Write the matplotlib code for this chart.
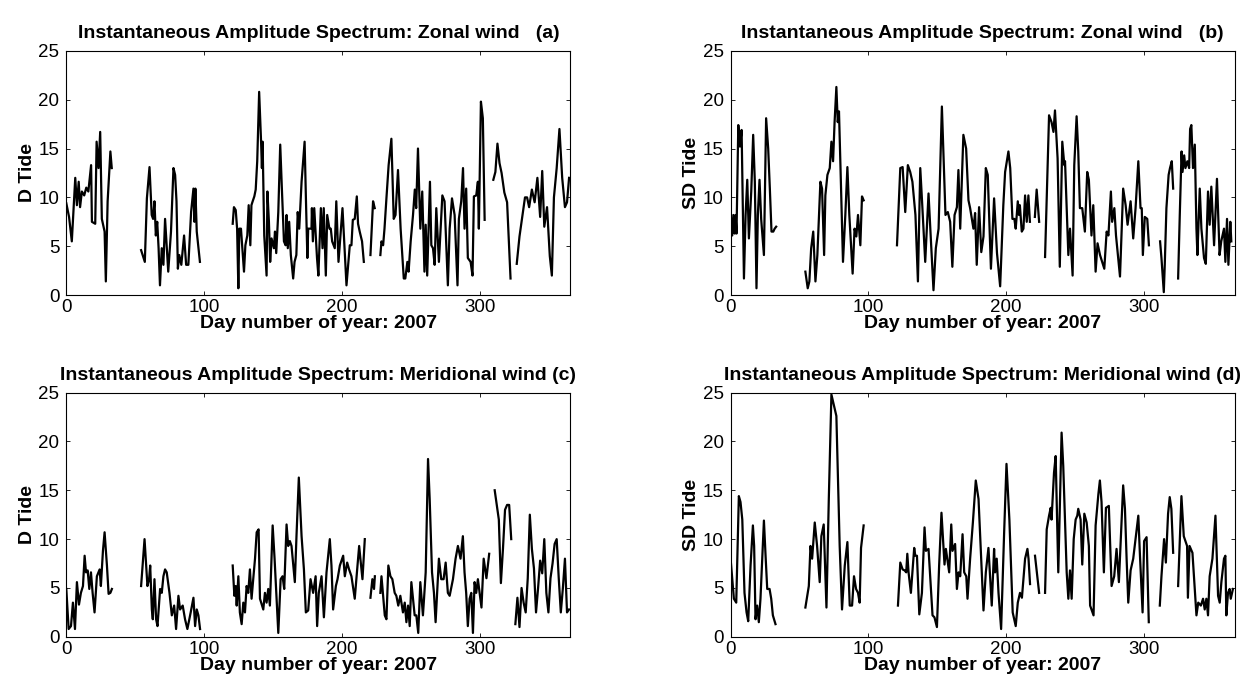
import numpy as np
import matplotlib
matplotlib.use("Agg")
import matplotlib.pyplot as plt

plt.rcParams['font.family'] = ['Liberation Sans', 'DejaVu Sans']

# ---- panel (a): zonal wind, diurnal tide (segments separated by data gaps)
a_days = [
    [0, 2, 4, 6.5, 7.7, 9, 10, 11.3, 13, 14.5, 16, 18, 18.6, 21, 22, 23.4, 24.6, 25.8, 27.8, 28.7, 30, 32, 33],
    [54.3, 57, 58.5, 60.4, 62, 63, 64, 65, 66, 67, 68, 69.3, 70.5, 71.7, 74, 76, 77.8, 79, 80, 81, 82, 83.5,
     85.5, 87, 88.6, 90.6, 92.3, 93, 93.7, 94.7, 97],
    [120.8, 121.7, 123, 124, 124.9, 125.6, 126.8, 127.8, 129, 130, 131.4, 132.4, 133.6, 134.4, 135.3, 136.5,
     137.5, 138.6, 140, 141.4, 142, 142.5, 143.7, 145.4, 146, 147.1, 148, 149, 150.7, 151.5, 152.4, 153.9,
     155.3, 156.5, 158, 159.2, 159.9, 160.8, 161.8, 163, 164.7, 165.7, 167, 168, 169.1, 170.8, 173, 174, 175,
     175.6, 178, 178.3, 179, 180, 182, 183, 184.8, 186, 186.9, 188.4, 189.4, 191, 192, 193, 194.9, 196,
     197.6, 200.5, 202, 203.4, 205.8, 207, 208, 209.4, 210.9, 211.8, 213, 214.7, 216],
    [220.8, 222.7, 223.9],
    [228, 228.8, 230, 231, 232.4, 234, 236, 237.7, 239, 240.8, 242.7, 245, 246.1, 247.6, 248.5, 250, 251.7,
     253, 254, 255.3, 257, 258.4, 260, 260.9, 262, 264, 265, 266.2, 267.4, 268.6, 270.5, 273, 274.6, 277,
     278.3, 280, 281.9, 284, 285, 286.7, 288, 289.1, 290.3, 291.5, 293.5, 294.9, 295.9, 297.6, 298.8, 299.5,
     301, 302.4, 303.7],
    [310, 311.5, 313, 314.5, 316, 318, 320, 322.5],
    [327, 329, 331, 333, 334.5, 336, 338, 340, 342, 344, 345.5, 347, 349, 351, 352.5, 354, 356, 358, 360,
     362, 363.5, 365],
]
a_vals = [
    [9.4, 8, 5.5, 12, 9.2, 11.6, 9, 10.6, 10.2, 11, 10.6, 13.3, 7.5, 7.3, 15.7, 13, 16.7, 7.8, 6.5, 1.4,
     9.6, 14.7, 13],
    [4.6, 3.4, 9.9, 13.1, 8.2, 7.8, 9.6, 6.1, 7.5, 4.8, 1, 4.8, 3.1, 7.8, 2.4, 6.5, 13, 12.3, 9.6, 2.7, 4.1,
     3.1, 6.1, 3.1, 3.1, 8.5, 10.9, 7.5, 10.9, 6.5, 3.4],
    [7.3, 9, 8.7, 6.8, 0.7, 6.8, 6.8, 4.8, 2.4, 5.1, 6.1, 9.2, 5.1, 9.2, 9.6, 10.1, 10.8, 13.7, 20.8, 15.7,
     13, 15.7, 6.1, 2, 10.6, 7.5, 3.4, 5.8, 4.8, 6.5, 4.3, 8.5, 15.4, 10.9, 5.5, 5.1, 8.2, 4.8, 7.5, 4.1,
     1.7, 3.4, 4.1, 8.5, 6.8, 11.6, 15.7, 9.6, 3.8, 6.8, 6.8, 8.9, 5.5, 8.9, 3.8, 2, 8.9, 4.8, 8.9, 2, 8.2,
     6.8, 6.8, 5.5, 4.8, 9.6, 3.4, 8.9, 4.8, 1, 5.1, 5.1, 7.7, 7.8, 10.1, 7.3, 6.5, 5.5, 3.4],
    [4.1, 9.6, 8.9],
    [4.1, 5.5, 5.1, 6.8, 9.9, 13.3, 16, 7.8, 8.2, 12.8, 6.8, 1.7, 1.7, 3.4, 2.4, 5.5, 8.2, 10.8, 8.9, 15,
     6.8, 10.6, 2.4, 7.2, 2, 11.6, 5.1, 4.8, 3.1, 8.9, 3.4, 10.2, 9.6, 1, 6.8, 9.9, 8.2, 1, 7.8, 9.6, 13,
     6.8, 10.9, 3.8, 3.4, 2, 10.1, 10.2, 11.6, 6.8, 19.8, 18.1, 7.7],
    [11.8, 12.6, 15.5, 13.5, 12.5, 10.5, 9.5, 1.7],
    [3.2, 6, 8, 10, 10, 9, 10.8, 9.5, 12, 8, 12.7, 7, 9, 4, 2, 10, 13, 17, 12, 9, 9.5, 12],
]

# ---- panel (b): zonal wind, semidiurnal tide
b_days = [
    [0, 1.2, 2, 3, 3.6, 4.3, 5.6, 6.8, 8, 9.7, 10.9, 12.1, 13.3, 15, 16.4, 17.6, 18.8, 19.8, 21, 22.2, 24.2,
     25.8, 27.3, 28.5, 29.7, 31, 32, 33.1],
    [54.3, 56, 57.2, 58.5, 60, 61.6, 63, 65.2, 66.4, 67.9, 68.8, 70.3, 72, 73.2, 74.4, 75.5, 76.8, 77.8,
     78.7, 80.2, 81.6, 83.3, 84.8, 86.2, 88.6, 90, 91.3, 92.5, 94.2, 95.4, 96.6],
    [120.8, 123.2, 124.9, 126.8, 128.7, 130.4, 132, 134.2, 136, 137.7, 139, 141.3, 143.7, 145, 147.3, 149,
     151, 153.4, 156, 157.7, 159.4, 161, 162.6, 164.3, 165.4, 166.7, 169, 171, 172.7, 173.9, 176.3, 177.5,
     178.7, 180.4, 182, 183.6, 185.3, 186.7, 189, 191.3, 193.4, 195.7, 198, 199.3, 201.7, 203, 204.6, 206,
     207, 208.5, 209.4, 210, 211.4, 212.6, 213.8, 215, 216.2, 217.3],
    [220.9, 222.2, 224],
    [228.3, 231.2, 233, 234.4, 235.5, 237.4, 239, 240.8, 242.3, 242.8, 245.2, 246.4, 248.3, 249.5, 251.2,
     252.4, 253.6, 255.3, 257.2, 258.9, 260.1, 262, 263.3, 265, 266.4, 268.2, 271.3, 273, 274.3, 276.1, 277,
     278.6, 279.8, 282.7, 285, 286.8, 288.2, 290.4, 292.3, 294, 296, 297.6, 298.5, 299.3, 300.7, 302.5,
     303.7],
    [311.8, 312.8, 314.5, 315.2, 316.4, 318, 319, 320.3, 321.3],
    [324.9, 326.1, 327.4, 328.1, 329.3, 330.2, 331.6, 332.9, 333.6, 334.5, 335.7, 337, 338.2, 338.9, 340.6,
     341.8, 343.7, 345, 346.6, 347.8, 349, 351, 353.1, 355, 356.2, 358.2, 359.2, 360.4, 361.4, 362.8, 363.5],
]
b_vals = [
    [8.4, 6.1, 8.2, 6.3, 8.2, 6.3, 17.4, 15.2, 16.9, 1.7, 8.2, 11.8, 5.8, 10.6, 16.4, 11.6, 0.7, 8.2, 11.8,
     7.8, 4.1, 18.1, 15, 10.9, 6.5, 6.5, 6.8, 7],
    [2.4, 0.7, 1.4, 4.8, 6.5, 1.4, 4.1, 11.6, 10.9, 4.1, 10.2, 12.3, 13, 15.7, 13.7, 17.7, 21.3, 17.7, 18.8,
     10.9, 3.4, 8.2, 13.1, 8.2, 2.2, 6.8, 6, 8.2, 5.1, 10.1, 9.7],
    [5.1, 13, 13.1, 8.5, 13.3, 12.6, 11.6, 8.2, 1.4, 13, 9.6, 3.4, 10.4, 6.8, 0.5, 4.8, 6.8, 19.3, 8.2, 8.5,
     7.5, 2.9, 8.2, 9, 12.8, 6.8, 16.4, 15, 9.7, 8.9, 6.8, 8.4, 3.1, 9, 4.4, 6, 13, 12.3, 2.7, 9.9, 4.3,
     0.9, 9.2, 12.6, 14.7, 13, 7.8, 7.8, 6.8, 9.6, 8.2, 9.2, 6.5, 6.8, 10.2, 7.5, 10.2, 7.5],
    [8, 10.8, 7.5],
    [3.9, 18.4, 17.7, 16.7, 18.9, 14, 2.9, 15.7, 13.3, 13.7, 4.1, 6.8, 2, 13.3, 18.3, 14.7, 8.9, 8.9, 6.5,
     12.6, 11.8, 6.1, 9.2, 2.4, 5.3, 4.1, 2.7, 6.5, 6.1, 10.6, 7.5, 8.9, 6.1, 1.9, 10.9, 9.2, 7.2, 9.6, 5.8,
     8.9, 13.7, 8.9, 8.9, 4.1, 8, 7.8, 5.1],
    [5.5, 3.8, 0.3, 3.1, 8.9, 12.3, 13, 13.7, 10.9],
    [1.7, 8.2, 14.7, 12.6, 14.3, 13, 13.7, 13, 17, 17.4, 13, 15.4, 6.8, 4.1, 10.9, 6.8, 3.8, 3.2, 10.6, 7.2,
     11.1, 5.1, 11.9, 4.1, 5.5, 6.8, 3.4, 7.8, 3.1, 7.5, 5.5],
]

# ---- panel (c): meridional wind, diurnal tide
c_days = [
    [0, 1.7, 3.4, 4.8, 6.3, 7.7, 9.2, 10.6, 12.1, 13.3, 14.3, 15.5, 16.7, 17.9, 19.1, 20.5, 22.2, 24.2, 25.1,
     26.6, 27.8, 29.5, 30.7, 32, 33.1],
    [54.3, 56.8, 58.9, 60.1, 60.9, 62.1, 62.8, 64, 65.2, 66.2, 68.1, 69.3, 70.5, 71.7, 72.9, 74.9, 76.6,
     78.3, 79.7, 81.4, 82.6, 84.5, 86.2, 87.9, 90.3, 92.3, 93.5, 94.7, 95.9, 97.1],
    [120.8, 122, 123, 123.7, 124.9, 126, 127.3, 128.5, 129.7, 130.9, 132.1, 133.3, 134.5, 135.7, 137, 138.2,
     139.6, 140.6, 143, 144.2, 145.4, 146.6, 147.8, 149.8, 151.2, 153.9, 155.6, 157, 158.2, 159.9, 161.1,
     162.3, 163.5, 165.9, 167.1, 168.8, 170.8, 172.5, 173.9, 175.6, 177.3, 179.2, 181, 182.1, 183.3, 185.3,
     187, 188.9, 191.3, 192.5, 193.7, 195.7, 196.9, 198.6, 201, 202.2, 203.9, 205.3, 207, 209.4, 211.4,
     212.6, 213.5, 215, 216.7],
    [220.8, 222.2, 223.4, 224],
    [228, 228.8, 231.2, 232.4, 233.8, 235.3, 236.7, 238.4, 239.6, 241, 242.5, 244.4, 245.7, 246.9, 248.1,
     249.3, 250.5, 252.9, 254.1, 255.5, 257, 258.9, 259.7, 260.9, 262.6, 263.8, 265.5, 266.9, 268.1, 270.5,
     272.2, 273.9, 275.4, 277, 278.3, 280.7, 282.6, 284.3, 286.2, 287.9, 289.1, 290.3, 291.5, 292.8, 294,
     295.2, 296.4, 297.6, 298.8, 301.4, 303, 305, 307],
    [311, 312.5, 314, 315.5, 317, 318.5, 320, 321.5, 323],
    [326, 327.5, 329, 330.5, 332, 333.5, 335, 336.5, 338, 339.5, 341, 342.5, 344, 345.5, 347, 348.5, 350,
     351.5, 353, 354.5, 356, 357.5, 359, 360.5, 362, 363.5, 365],
]
c_vals = [
    [4.9, 0.8, 1.1, 3.5, 0.8, 5.6, 3.3, 4.5, 5.2, 8.3, 6.6, 6.8, 4.9, 6.6, 4.5, 2.5, 6.2, 6.9, 5.2, 8.8, 10.7,
     7.3, 4.4, 4.5, 4.9],
    [5.2, 10, 5.2, 5.9, 7.3, 2.8, 1.8, 5.9, 1.8, 1.1, 4.9, 4.5, 6.2, 6.9, 6.6, 4.5, 2.2, 3.2, 0.8, 4.2, 2.8,
     3.2, 1.8, 0.8, 2.5, 4, 1.1, 2.8, 2.2, 0.8],
    [7.3, 4.2, 5.2, 3.2, 6.2, 2.5, 1.3, 3.5, 2.5, 5.2, 4.5, 6.9, 3.9, 5.9, 8, 10.7, 11, 3.9, 2.8, 4.5, 3.5,
     4.9, 3.2, 11.4, 8, 0.4, 5.9, 6.2, 4.9, 11.5, 9.3, 9.8, 9.3, 5.6, 10.3, 16.3, 10.3, 6.9, 2.5, 2.7, 5.9,
     4.5, 6.2, 1.1, 4.5, 6.2, 2, 6.6, 10, 7.3, 2.8, 5.2, 5.9, 7.3, 8.3, 6.2, 7.6, 6.9, 6.2, 3.9, 7.3, 9.3,
     8, 5.9, 10],
    [4, 5.9, 4.9, 6.2],
    [4.5, 6.2, 2.2, 1.8, 7.3, 6.2, 5.9, 4.5, 4.2, 3.2, 4.2, 2.5, 3.5, 1.5, 3.2, 1.1, 5.6, 2.2, 2.2, 0.4, 5.6,
     2.2, 3.9, 6.6, 18.2, 14.1, 6.6, 4.5, 1.5, 8, 5.9, 5.9, 7.6, 4.5, 4.2, 5.9, 8, 9.3, 8, 10.3, 6.6, 4.5,
     1.1, 3.9, 4.5, 0.4, 5.6, 4.5, 5.9, 3, 8, 6, 8.5],
    [15, 13.5, 12, 5.5, 9, 13, 13.5, 13.5, 10],
    [1.3, 4, 1, 5, 3.5, 2.5, 6, 12.5, 9, 7, 2.5, 5, 7.8, 6.5, 10, 4.5, 2.5, 6, 7.5, 9.5, 10, 6, 2.5, 5, 8,
     2.5, 2.8],
]

# ---- panel (d): meridional wind, semidiurnal tide
d_days = [
    [0, 2.4, 4.1, 6, 7.2, 8.5, 10.1, 11.6, 12.8, 14.5, 16.2, 17.1, 18.1, 19.3, 20.5, 21.7, 24.2, 25.4, 26.6,
     28.3, 29.5, 30.7, 32.6],
    [54.3, 56.8, 58, 59.2, 61.1, 62.8, 64.7, 65.9, 67.6, 69.6, 71.3, 73.2, 76.8, 79.2, 80.9, 82.9, 84.8,
     86.5, 88.2, 89.6, 91.1, 92.5, 93.7, 94.7, 96.6],
    [121.5, 123.2, 124.9, 126.3, 127.5, 128.3, 129.2, 130.9, 133.3, 134.1, 135.3, 137, 138.9, 140.8, 141.8,
     143.7, 146.6, 148, 149.8, 151.4, 153.1, 155.3, 156.3, 158.7, 160.2, 161.1, 163, 164.3, 165.5, 166.7,
     168.4, 169.6, 171.1, 172, 173.9, 175.9, 178, 180, 183.6, 185.3, 187.2, 189.6, 191.3, 192, 193.2, 194.5,
     196.4, 198.6, 200.3, 202.4, 204.8, 207, 208.5, 210.1, 211.5, 213.8, 215.5, 216.3, 217.4],
    [221, 224],
    [228.3, 229.5, 231.2, 232.4, 233, 234.8, 236, 237.9, 240.3, 241.5, 244, 245.2, 246.4, 247.6, 249.1,
     250.5, 251.7, 252.4, 254.1, 255.3, 256.8, 258.5, 260.1, 261, 263.5, 265, 267, 268.1, 269.3, 271, 272.5,
     274.6, 276.6, 278.5, 280.2, 281.9, 285, 286.3, 287.5, 288.7, 290.4, 292.3, 296, 297.2, 299.1, 300.2,
     302, 303.6],
    [311.6, 312.8, 314.7, 316, 317.6, 318.8, 320, 321.3],
    [324.9, 327.3, 329, 331.4, 332, 333.2, 335.3, 338.2, 339.5, 341.4, 343, 344.2, 345.4, 346.6, 347.8,
     349.8, 352, 353.9, 355.1, 356.3, 358.2, 359.2, 359.9, 361.1, 362.3, 363.1, 364.7],
]
d_vals = [
    [8, 3.9, 3.5, 14.4, 13.8, 12, 4.5, 2.5, 1.6, 7.3, 11.4, 9.3, 1.8, 3.2, 1.5, 3.9, 11.9, 8.3, 4.9, 4.9,
     3.9, 2.2, 1.3],
    [3, 5.2, 9.3, 8, 11.7, 9.3, 5.6, 10.3, 11.5, 3, 14.1, 24.8, 22.6, 9.3, 2.8, 7.3, 9.7, 3.2, 3.2, 6.2, 4.9,
     4.5, 3.5, 9.1, 11.4],
    [3.2, 7.6, 6.9, 6.8, 6.6, 8.5, 6.6, 4.5, 9.1, 8.3, 8.3, 2.3, 4.5, 11.2, 8.8, 9, 2.2, 2, 1, 7.3, 12.7,
     7.4, 9, 6.6, 11.5, 8.8, 9.5, 4.9, 6.6, 6.2, 10.5, 6.6, 6.2, 3.9, 8, 11.7, 16, 14.1, 2.7, 6.6, 9.1, 3.2,
     9, 6.6, 8, 4.5, 0.8, 10.7, 17.7, 12, 2.5, 1.1, 3.5, 4.5, 4, 8, 9, 8, 5.4],
    [8.3, 4.5],
    [4.5, 11, 12.4, 13.2, 12, 16.8, 18.5, 6.6, 20.9, 17.5, 6.6, 3.9, 6.8, 3.9, 10, 12, 12.4, 13.1, 12, 7.4,
     12.6, 11.7, 9.3, 3.2, 2.2, 11.4, 14.6, 16, 13.8, 6.6, 13.2, 13.4, 5.2, 6.2, 9, 5.6, 15.5, 13.1, 8, 3.5,
     6.8, 8, 12.4, 8.3, 2.5, 9.8, 10.2, 1.5],
    [3.2, 6.2, 10, 7.6, 12.6, 14.3, 13.1, 8.6],
    [5.2, 14.4, 10.3, 9.3, 4, 9.3, 8.6, 2.2, 3.5, 3.2, 3.9, 2.8, 3.9, 2.2, 6.2, 8, 12.4, 4.2, 3.5, 5.6, 8,
     8.3, 2.2, 4.5, 4.9, 3.9, 4.9],
]

titles = [
    "Instantaneous Amplitude Spectrum: Zonal wind   (a)",
    "Instantaneous Amplitude Spectrum: Zonal wind   (b)",
    "Instantaneous Amplitude Spectrum: Meridional wind (c)",
    "Instantaneous Amplitude Spectrum: Meridional wind (d)",
]
ylabels = ["D Tide", "SD Tide", "D Tide", "SD Tide"]
xlabel = "Day number of year: 2007"
x_ticks = [0, 100, 200, 300]
y_ticks = [0, 5, 10, 15, 20, 25]

fig = plt.figure(figsize=(12.51, 6.96), dpi=100)
rects = [
    [0.053, 0.576, 0.403, 0.351],
    [0.584, 0.576, 0.403, 0.351],
    [0.053, 0.085, 0.403, 0.351],
    [0.584, 0.085, 0.403, 0.351],
]
panels = [(a_days, a_vals), (b_days, b_vals), (c_days, c_vals), (d_days, d_vals)]

for rect, (days, vals), title, ylab in zip(rects, panels, titles, ylabels):
    ax = fig.add_axes(rect)
    for seg_x, seg_y in zip(days, vals):
        ax.plot(seg_x, seg_y, color='black', linewidth=1.6)
    ax.set_xlim(0, 366)
    ax.set_ylim(0, 25)
    ax.set_xticks(x_ticks)
    ax.set_yticks(y_ticks)
    ax.tick_params(direction='in', length=3, width=0.6, top=True, right=True, labelsize=13.5)
    ax.tick_params(axis='x', pad=3)
    ax.tick_params(axis='y', pad=5)
    for sp in ax.spines.values():
        sp.set_linewidth(0.8)
    ax.set_title(title, fontsize=14, fontweight='bold', pad=9)
    ax.set_xlabel(xlabel, fontsize=14, fontweight='bold', labelpad=-1)
    ax.set_ylabel(ylab, fontsize=14, fontweight='bold', labelpad=2)

fig.savefig("out.png", dpi=100)
